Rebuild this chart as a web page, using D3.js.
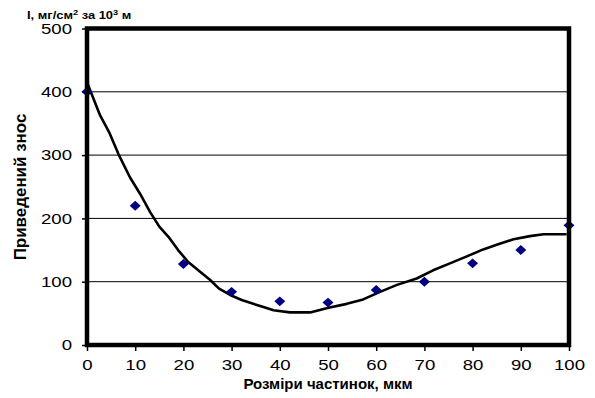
<!DOCTYPE html>
<html>
<head>
<meta charset="utf-8">
<script src="https://cdn.jsdelivr.net/npm/d3@7"></script>
<style>
  body { margin: 0; background: #fff; }
  svg { display: block; font-family: Arial, "Liberation Sans", sans-serif; }
</style>
</head>
<body>
<div id="chart"></div>
<script>
// measured points (particle size, reduced wear)
const sizes = [0, 10, 20, 30, 40, 50, 60, 70, 80, 90, 100];
const wear = [400, 220, 128, 84, 69, 67, 87, 100, 129, 150, 189];

// trend curve
const curveX = [0, 2.7, 4.6, 6.5, 8.9, 11, 13.1, 15, 16.9, 18.9, 21, 23.4, 25.5, 27.4, 29.7, 32.1, 34.5, 36.6, 38.7, 42.1, 46.3, 50.1, 53.9, 57.3, 60.8, 64.3, 68.4, 71.8, 75.3, 78.8, 82.2, 85.3, 88.5, 91.9, 94.7, 99.5];
const curveY = [415, 363, 336, 302, 265, 239, 210, 187, 171, 150, 131, 116, 103, 89, 79, 71, 65, 60, 55, 51.5, 51.5, 59, 65, 72, 84, 95, 105, 118, 129, 140, 151, 159, 167, 172, 175, 175];

const yTicks = [0, 100, 200, 300, 400, 500];
const xTicks = [0, 10, 20, 30, 40, 50, 60, 70, 80, 90, 100];

const W = 595, H = 398;
const margin = { left: 87, top: 28.5, right: 26, bottom: 53 };
const width = W - margin.left - margin.right;
const height = H - margin.top - margin.bottom;
const stretch = 1.24; // tick labels look wide in the original

const svg = d3.select('#chart').append('svg')
    .attr('width', W)
    .attr('height', H);

const g = svg.append('g')
    .attr('transform', `translate(${margin.left}, ${margin.top})`);

const x = d3.scaleLinear().domain([0, 100]).range([0, width]);
const y = d3.scaleLinear().domain([0, 500]).range([height, 0]);

// grid lines
g.append('g')
    .selectAll('line')
    .data(yTicks.slice(1, -1))
    .join('line')
    .attr('x1', 0).attr('x2', width)
    .attr('y1', d => y(d)).attr('y2', d => y(d))
    .attr('stroke', '#000')
    .attr('stroke-width', 1);

// axes
const yAxis = g.append('g')
    .call(d3.axisLeft(y).tickValues(yTicks).tickSize(5).tickPadding(4));
const xAxis = g.append('g')
    .attr('transform', `translate(0, ${height})`)
    .call(d3.axisBottom(x).tickValues(xTicks).tickSize(6).tickPadding(8));

[yAxis, xAxis].forEach(a => {
    a.select('.domain').remove();
    a.selectAll('text')
        .attr('font-size', '15px')
        .attr('font-family', 'Arial, "Liberation Sans", sans-serif')
        .attr('fill', '#000')
        .attr('transform', `scale(${stretch}, 1)`);
    a.selectAll('.tick line').attr('stroke', '#000').attr('stroke-width', 1.5);
});
yAxis.selectAll('text').attr('x', -15 / stretch);

// trend line
const line = d3.line()
    .x((d, i) => x(curveX[i]))
    .y((d, i) => y(curveY[i]));

g.append('path')
    .datum(curveY)
    .attr('d', line)
    .attr('fill', 'none')
    .attr('stroke', '#000')
    .attr('stroke-width', 2.6)
    .attr('stroke-linejoin', 'round');

// markers: rotated squares
g.selectAll('.pt')
    .data(sizes)
    .join('path')
    .attr('class', 'pt')
    .attr('d', d3.symbol(d3.symbolSquare, 60))
    .attr('transform', (d, i) => `translate(${x(d)}, ${y(wear[i])}) scale(1, 0.9) rotate(45)`)
    .attr('fill', '#000080');

// thick frame
g.append('rect')
    .attr('x', 0).attr('y', 0)
    .attr('width', width).attr('height', height)
    .attr('fill', 'none')
    .attr('stroke', '#000')
    .attr('stroke-width', 4.5);

// titles
svg.append('text')
    .attr('x', margin.left + width / 2)
    .attr('y', 389)
    .attr('text-anchor', 'middle')
    .attr('font-size', '15px')
    .attr('font-weight', 'bold')
    .text('Розміри частинок, мкм');

svg.append('text')
    .attr('transform', `translate(25.5, 187) rotate(-90) scale(1.06, 1)`)
    .attr('text-anchor', 'middle')
    .attr('font-size', '16px')
    .attr('font-weight', 'bold')
    .text('Приведений знос');

const unit = svg.append('text')
    .attr('transform', 'translate(27, 19) scale(1.23, 1)')
    .attr('font-size', '10.5px')
    .attr('font-weight', 'bold');
unit.append('tspan').text('I, мг/см');
unit.append('tspan').attr('dy', -4).attr('font-size', '7.5px').text('2');
unit.append('tspan').attr('dy', 4).text(' за 10');
unit.append('tspan').attr('dy', -4).attr('font-size', '7.5px').text('3');
unit.append('tspan').attr('dy', 4).text(' м');
</script>
</body>
</html>
